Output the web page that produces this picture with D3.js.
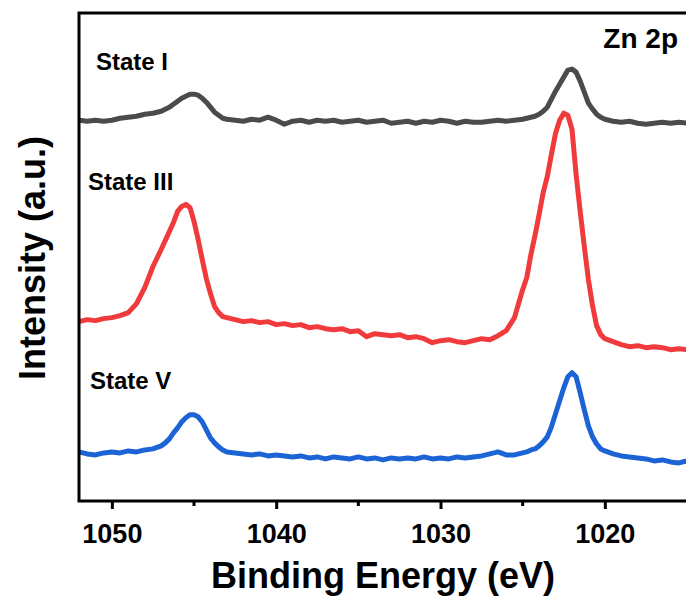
<!DOCTYPE html>
<html>
<head>
<meta charset="utf-8">
<script src="https://cdn.jsdelivr.net/npm/d3@7"></script>
<style>
  html, body { margin: 0; padding: 0; background: #fff; }
  svg { display: block; }
</style>
</head>
<body>
<svg id="chart" width="686" height="599"></svg>
<script>
// binding energy grid (eV), finer around the peaks
const energy = [
  1052, 1051.5, 1051, 1050.5, 1050, 1049.5, 1049, 1048.5, 1048, 1047.5, 1047,
  1046.75, 1046.5, 1046.25, 1046, 1045.75, 1045.5, 1045.25, 1045, 1044.75, 1044.5, 1044.25, 1044, 1043.75, 1043.5, 1043.25, 1043,
  1042.5, 1042, 1041.5, 1041, 1040.5, 1040, 1039.5, 1039, 1038.5, 1038, 1037.5, 1037, 1036.5, 1036, 1035.5, 1035,
  1034.5, 1034, 1033.5, 1033, 1032.5, 1032, 1031.5, 1031, 1030.5, 1030, 1029.5, 1029, 1028.5, 1028, 1027.5, 1027,
  1026.5, 1026, 1025.5, 1025,
  1024.75, 1024.5, 1024.25, 1024, 1023.75, 1023.5, 1023.25, 1023, 1022.75, 1022.5, 1022.25, 1022, 1021.75, 1021.5, 1021.25, 1021, 1020.75, 1020.5, 1020.25, 1020,
  1019.5, 1019, 1018.5, 1018, 1017.5, 1017, 1016.5, 1016, 1015.5, 1015
];

// stacked intensities (a.u.)
const stateI = [
  380, 379, 380, 379, 380, 382, 383, 384, 386, 387, 389,
  391, 393, 396, 399, 402, 404, 406, 406, 405, 402, 398, 393, 388, 385, 382, 381,
  380, 379, 381, 380, 383, 380, 376, 379, 380, 378, 380, 379, 380, 378, 379, 380,
  378, 379, 380, 377, 378, 379, 377, 379, 378, 380, 379, 377, 379, 378, 378, 379,
  380, 379, 380, 381,
  382, 383, 384, 386, 389, 393, 401, 409, 416, 423, 430, 431, 428, 419, 408, 397, 391, 386, 383, 381,
  379, 378, 379, 377, 376, 377, 378, 377, 378, 377
];

const stateIII = [
  179, 181, 180, 182, 183, 185, 188, 197, 213, 234, 251,
  260, 269, 278, 289, 294, 296, 293, 279, 261, 241, 222, 207, 194, 188, 184, 183,
  181, 179, 180, 178, 179, 176, 177, 175, 176, 173, 174, 172, 171, 172, 169, 170,
  164, 167, 166, 165, 166, 163, 164, 162, 158, 160, 161, 159, 158, 160, 162, 161,
  165, 170, 183, 211,
  223, 246, 265, 286, 308, 324, 346, 367, 380, 387, 385, 371, 326, 289, 254, 221, 195, 175, 166, 162,
  159, 156, 154, 155, 153, 154, 153, 151, 152, 151
];

const stateV = [
  49, 47, 46, 48, 49, 48, 50, 49, 51, 52, 55,
  58, 62, 68, 73, 79, 83, 86, 86, 84, 79, 71, 63, 58, 54, 51, 49,
  48, 47, 46, 47, 45, 46, 45, 44, 45, 43, 44, 42, 44, 43, 42, 44,
  42, 43, 41, 43, 42, 43, 42, 44, 42, 43, 42, 44, 43, 44, 45, 47,
  49, 46, 46, 48,
  49, 51, 52, 55, 59, 64, 74, 87, 100, 113, 124, 128, 124, 108, 91, 75, 64, 57, 52, 50,
  47, 45, 44, 43, 42, 40, 41, 39, 38, 40
];

const seriesNames = ["State I", "State III", "State V"];
const seriesColors = ["#4b4b4b", "#f03a3c", "#1c63d6"];
const majorTicks = [1050, 1040, 1030, 1020];
const minorTicks = [1045, 1035, 1025];

const width = 686;
const height = 599;
const margins = { left: 79, right: -6, top: 13, bottom: 98 };

const svg = d3.select("#chart");
const font = "Arial, 'Liberation Sans', sans-serif";

const x = d3
  .scaleLinear()
  .domain([1052, 1015])
  .range([margins.left, 687]);

const y = d3
  .scaleLinear()
  .domain([0, 487])
  .range([height - margins.bottom, margins.top]);

const plotRight = width - margins.right;
const plotBottom = height - margins.bottom;

svg.append("defs")
  .append("clipPath")
  .attr("id", "plotClip")
  .append("rect")
  .attr("x", margins.left)
  .attr("y", margins.top)
  .attr("width", plotRight - margins.left)
  .attr("height", plotBottom - margins.top);

// spectra
const line = d3
  .line()
  .x((d) => x(d[0]))
  .y((d) => y(d[1]));

const allSeries = [stateI, stateIII, stateV];
svg
  .append("g")
  .attr("clip-path", "url(#plotClip)")
  .selectAll("path")
  .data(allSeries)
  .join("path")
  .attr("fill", "none")
  .attr("stroke", (d, i) => seriesColors[i])
  .attr("stroke-width", 5)
  .attr("stroke-linejoin", "round")
  .attr("stroke-linecap", "round")
  .attr("d", (s) => line(energy.map((e, i) => [e, s[i]])));

// frame
svg
  .append("rect")
  .attr("x", margins.left)
  .attr("y", margins.top)
  .attr("width", plotRight - margins.left)
  .attr("height", plotBottom - margins.top)
  .attr("fill", "none")
  .attr("stroke", "#000")
  .attr("stroke-width", 3);

// x axis, major and minor ticks
const xAxisNode = svg
  .append("g")
  .attr("transform", `translate(0, ${plotBottom})`);

xAxisNode
  .call(d3.axisBottom(x).tickValues(majorTicks).tickSize(8).tickFormat(d3.format("d")))
  .call((g) => g.select(".domain").remove())
  .attr("font-family", font)
  .attr("font-weight", "bold")
  .attr("font-size", 27);

xAxisNode.selectAll(".tick line").attr("stroke", "#000").attr("stroke-width", 3);
xAxisNode.selectAll(".tick text").attr("fill", "#000").attr("dy", null).attr("y", 42);

xAxisNode
  .selectAll(".minor")
  .data(minorTicks)
  .join("line")
  .attr("class", "minor")
  .attr("x1", (d) => x(d))
  .attr("x2", (d) => x(d))
  .attr("y1", 0)
  .attr("y2", 5)
  .attr("stroke", "#000")
  .attr("stroke-width", 3);

// axis titles
svg
  .append("text")
  .attr("x", 383)
  .attr("y", 588)
  .attr("text-anchor", "middle")
  .attr("font-family", font)
  .attr("font-weight", "bold")
  .attr("font-size", 36)
  .text("Binding Energy (eV)");

svg
  .append("text")
  .attr("transform", "translate(45, 258) rotate(-90)")
  .attr("text-anchor", "middle")
  .attr("font-family", font)
  .attr("font-weight", "bold")
  .attr("font-size", 36)
  .text("Intensity (a.u.)");

// series labels
const labelPos = [
  [96, 70],
  [88, 190],
  [90, 389],
];
svg
  .append("g")
  .selectAll("text")
  .data(seriesNames)
  .join("text")
  .attr("x", (d, i) => labelPos[i][0])
  .attr("y", (d, i) => labelPos[i][1])
  .attr("font-family", font)
  .attr("font-weight", "bold")
  .attr("font-size", 24)
  .text((d) => d);

svg
  .append("text")
  .attr("x", 678)
  .attr("y", 48)
  .attr("text-anchor", "end")
  .attr("font-family", font)
  .attr("font-weight", "bold")
  .attr("font-size", 28)
  .text("Zn 2p");
</script>
</body>
</html>
